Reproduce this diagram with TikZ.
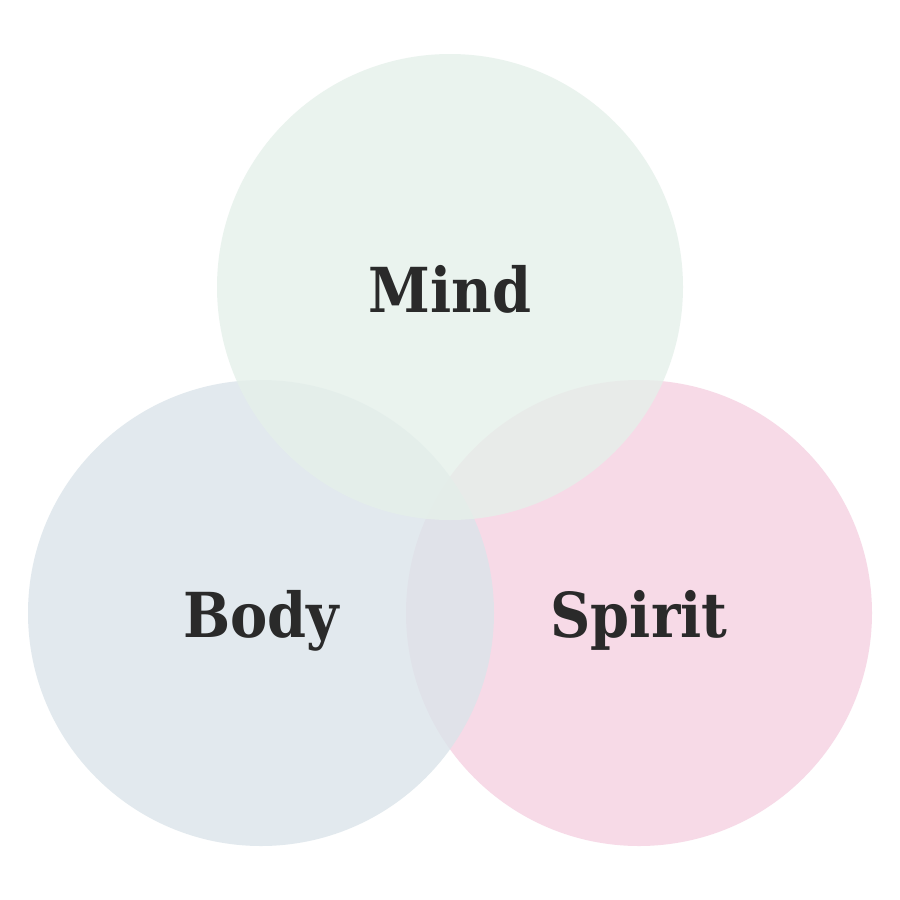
\documentclass[tikz,border=0pt]{standalone}
\usepackage{fontspec}
\setmainfont{DejaVu Serif Condensed}
\definecolor{mindc}{RGB}{229,240,234}
\definecolor{bodyc}{RGB}{219,228,234}
\definecolor{spiritc}{RGB}{245,209,226}
\definecolor{txt}{RGB}{42,42,42}
\tikzset{
  venn/.style={circle, minimum size=466pt, inner sep=0pt, fill opacity=0.8, draw=none},
  lbl/.style={anchor=base, text=txt, font=\bfseries\fontsize{62}{74}\selectfont, inner sep=0pt}
}
\begin{document}
\begin{tikzpicture}[x=1pt,y=-1pt]
\useasboundingbox[fill=white] (0,0) rectangle (900,900);
\node[venn, fill=spiritc] (spirit) at (639,613) {};
\node[venn, fill=bodyc] (body) at (261,613) {};
\node[venn, fill=mindc] (mind) at (450,287) {};
\node[lbl] (tmind) at (450,312) {Mind};
\node[lbl] (tbody) at (261,637) {Body};
\node[lbl] (tspirit) at (639,637) {Spirit};
\end{tikzpicture}
\end{document}
